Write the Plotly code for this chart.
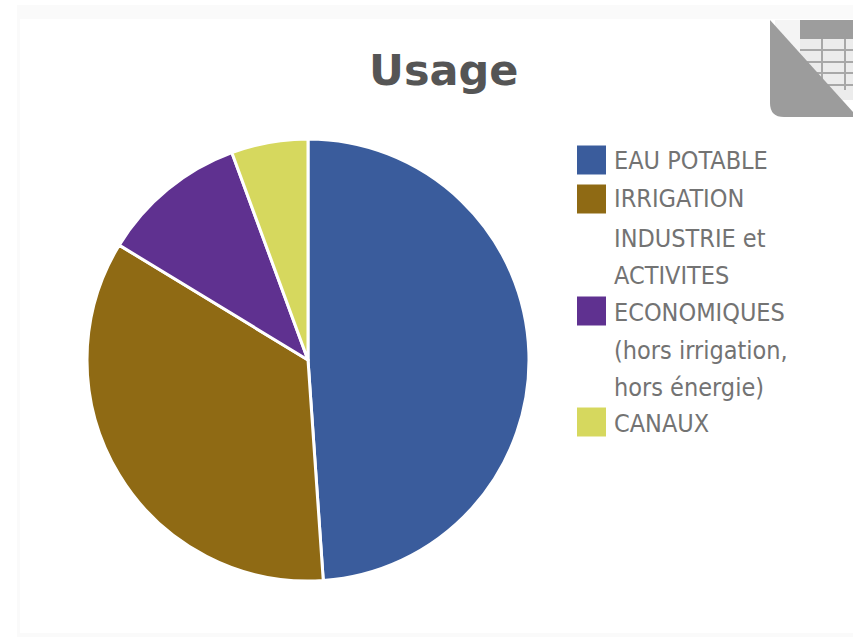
import plotly.graph_objects as go

W, H = 853, 637

title = "Usage"
categories = ["EAU POTABLE", "IRRIGATION",
              "INDUSTRIE et ACTIVITES ECONOMIQUES (hors irrigation, hors énergie)", "CANAUX"]
values = [48.9, 34.8, 10.7, 5.6]
colors = ["#3a5c9c", "#8f6a14", "#5f3190", "#d6d85e"]

legend_lines = ["EAU POTABLE", "IRRIGATION", "INDUSTRIE et", "ACTIVITES", "ECONOMIQUES",
                "(hors irrigation,", "hors énergie)", "CANAUX"]
legend_line_y = [160, 199, 238, 275, 312, 350, 387, 423]
swatch_y = [160, 199, 311, 422]


def px(x):
    return x / W


def py(y):
    return 1 - y / H


def rect(x0, y0, x1, y1, color):
    return dict(type="rect", xref="paper", yref="paper", x0=px(x0), x1=px(x1), y0=py(y1), y1=py(y0),
                fillcolor=color, line_width=0, layer="below")


shapes = [
    rect(17, 5, 853, 637, "#fafafa"),
    rect(20, 19, 853, 633, "#ffffff"),
    # table icon
    rect(775, 20, 800, 60, "#f4f4f4"),
    rect(800, 20, 853, 100, "#ececec"),
    rect(800, 20, 853, 39, "#9d9d9d"),
]
for gx in [822, 845]:
    shapes.append(rect(gx - 1, 39, gx + 1, 90, "#a8a8a8"))
for gy in [50, 62, 73, 85]:
    shapes.append(rect(800, gy - 1, 853, gy + 1, "#a8a8a8"))
shapes.append(dict(
    type="path", xref="paper", yref="paper", layer="below", fillcolor="#9c9c9c", line_width=0,
    path=(f"M {px(770)} {py(20)} L {px(853)} {py(112)} L {px(853)} {py(117)} L {px(784)} {py(117)} "
          f"Q {px(770)} {py(117)} {px(770)} {py(103)} Z"),
))
for y, c in zip(swatch_y, colors):
    shapes.append(rect(577, y - 14.5, 606, y + 14.5, c))

annotations = [
    dict(text=title, xref="paper", yref="paper", x=px(443.5), y=py(70), xanchor="center", yanchor="middle",
         showarrow=False, font=dict(family="DejaVu Sans", size=43, color="#555555", weight="bold")),
]
for line, y in zip(legend_lines, legend_line_y):
    annotations.append(dict(text=line, xref="paper", yref="paper", x=px(612), y=py(y), xanchor="left",
                            yanchor="middle", showarrow=False,
                            font=dict(family="DejaVu Sans Condensed, DejaVu Sans", size=25,
                                      color="#737373")))

fig = go.Figure(go.Pie(
    labels=categories, values=values, sort=False, direction="clockwise", rotation=0,
    marker=dict(colors=colors, line=dict(color="#ffffff", width=3)),
    textinfo="none", hoverinfo="label+percent",
    domain=dict(x=[px(87), px(529)], y=[py(581), py(139)]),
))
fig.update_layout(width=W, height=H, margin=dict(l=0, r=0, t=0, b=0), showlegend=False,
                  paper_bgcolor="#ffffff", shapes=shapes, annotations=annotations)
fig.write_html("out.html", post_script="document.body.style.margin='0';",
               config={"displayModeBar": False})
